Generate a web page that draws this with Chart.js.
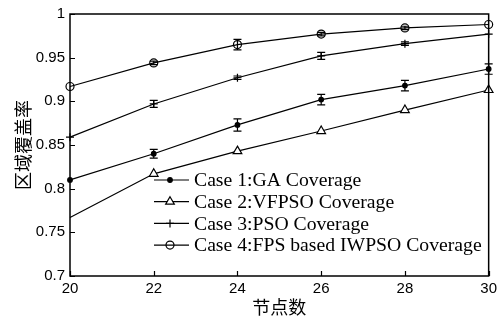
<!DOCTYPE html>
<html><head><meta charset="utf-8">
<script src="https://cdn.jsdelivr.net/npm/chart.js@4/dist/chart.umd.min.js"></script>
<style>html,body{margin:0;padding:0;background:#fff}#wrap{width:501px;height:321px}</style>
</head><body><div id="wrap"><canvas id="c" width="501" height="321"></canvas></div>
<script>
const nodes = [20, 22, 24, 26, 28, 30];
const gaCoverage    = [0.810, 0.840, 0.873, 0.902, 0.918, 0.937];
const gaErr         = [0.000, 0.005, 0.007, 0.006, 0.006, 0.006];
const vfpsoCoverage = [0.767, 0.817, 0.843, 0.866, 0.890, 0.913];
const psoCoverage   = [0.859, 0.897, 0.927, 0.952, 0.966, 0.977];
const psoErr        = [0.000, 0.004, 0.002, 0.004, 0.002, 0.000];
const fpsCoverage   = [0.917, 0.944, 0.965, 0.977, 0.984, 0.988];
const fpsErr        = [0.000, 0.002, 0.006, 0.002, 0.002, 0.000];
const yTicks = [0.7, 0.75, 0.8, 0.85, 0.9, 0.95, 1];
const xTicks = [20, 22, 24, 26, 28, 30];
const labels = ['Case 1:GA Coverage', 'Case 2:VFPSO Coverage', 'Case 3:PSO Coverage', 'Case 4:FPS based IWPSO Coverage'];

const pts = a => a.map((v, i) => ({x: nodes[i], y: v}));
const base = {borderColor:'#000', backgroundColor:'#000', borderWidth:1.2, pointBorderColor:'#000', pointBorderWidth:1.2, tension:0, clip:false};

const datasets = [
  Object.assign({}, base, {label: labels[0], data: pts(gaCoverage), err: gaErr, pointStyle:'circle', pointRadius:2.3, pointBackgroundColor:'#000'}),
  Object.assign({}, base, {label: labels[1], data: pts(vfpsoCoverage), pointStyle:'triangle', pointRadius:[0,5,5,5,5,5], pointBackgroundColor:'#fff'}),
  Object.assign({}, base, {label: labels[2], data: pts(psoCoverage), err: psoErr, pointStyle:'cross', pointRadius:4, pointBackgroundColor:'#fff'}),
  Object.assign({}, base, {label: labels[3], data: pts(fpsCoverage), err: fpsErr, pointStyle:'circle', pointRadius:4, pointBackgroundColor:'rgba(255,255,255,0)'})
];

const decor = {
  id: 'decor',
  afterDatasetsDraw(chart) {
    const ctx = chart.ctx, xs = chart.scales.x, ys = chart.scales.y;
    ctx.save();
    ctx.strokeStyle = '#000'; ctx.lineWidth = 1.2;
    chart.data.datasets.forEach(ds => {
      if (!ds.err) return;
      ds.data.forEach((p, i) => {
        const e = ds.err[i]; if (!e) return;
        const x = xs.getPixelForValue(p.x), y1 = ys.getPixelForValue(p.y + e), y2 = ys.getPixelForValue(p.y - e);
        ctx.beginPath();
        ctx.moveTo(x, y1); ctx.lineTo(x, y2);
        ctx.moveTo(x - 4, y1); ctx.lineTo(x + 4, y1);
        ctx.moveTo(x - 4, y2); ctx.lineTo(x + 4, y2);
        ctx.stroke();
      });
    });
    ctx.restore();
  },
  afterDraw(chart) {
    const ctx = chart.ctx, a = chart.chartArea, xs = chart.scales.x, ys = chart.scales.y;
    ctx.save();
    ctx.strokeStyle = '#000'; ctx.lineWidth = 1.5;
    ctx.strokeRect(a.left, a.top, a.right - a.left, a.bottom - a.top);
    ctx.lineWidth = 1.2;
    ctx.beginPath();
    yTicks.forEach(v => { const y = Math.round(ys.getPixelForValue(v)) + 0.5; ctx.moveTo(a.left, y); ctx.lineTo(a.left + 5, y); });
    xTicks.forEach(v => { const x = Math.round(xs.getPixelForValue(v)) + 0.5; ctx.moveTo(x, a.bottom); ctx.lineTo(x, a.bottom - 5); });
    ctx.stroke();
    // legend
    const lx0 = 154, lx1 = 189, mx = 170, tx = 194;
    let y = 180;
    ctx.font = '19.7px "Liberation Serif", "Times New Roman", serif';
    ctx.textBaseline = 'middle';
    chart.data.datasets.forEach((ds, i) => {
      ctx.lineWidth = 1.2; ctx.strokeStyle = '#000';
      ctx.beginPath(); ctx.moveTo(lx0, y); ctx.lineTo(lx1, y); ctx.stroke();
      const r = Array.isArray(ds.pointRadius) ? ds.pointRadius[1] : ds.pointRadius;
      ctx.fillStyle = ds.pointBackgroundColor; ctx.strokeStyle = '#000';
      Chart.helpers.drawPoint(ctx, {pointStyle: ds.pointStyle, radius: r, borderWidth: 1.2, rotation: 0}, mx, y);
      ctx.fillStyle = '#000';
      ctx.fillText(ds.label, tx, y + 1);
      y += 21.7;
    });
    ctx.restore();
  }
};

new Chart(document.getElementById('c'), {
  type: 'line',
  data: {datasets},
  options: {
    responsive: false, animation: false,
    layout: {padding: {left: 0, right: 11, top: 14, bottom: 0}},
    plugins: {legend: {display: false}, tooltip: {enabled: false}},
    scales: {
      x: {
        type: 'linear', min: 20, max: 30,
        afterBuildTicks: s => { s.ticks = xTicks.map(v => ({value: v})); },
        afterFit: s => { s.height = 45; },
        grid: {display: false, drawTicks: false},
        border: {display: false},
        ticks: {color: '#000', font: {family: '"Liberation Sans", Arial, sans-serif', size: 15}, padding: 4, maxRotation: 0},
        title: {display: true, text: '节点数', color: '#000', font: {family: '"Noto Sans CJK SC", sans-serif', size: 18}, padding: {top: 0, bottom: 3}}
      },
      y: {
        type: 'linear', min: 0.7, max: 1,
        afterBuildTicks: s => { s.ticks = yTicks.map(v => ({value: v})); },
        afterFit: s => { s.width = 70; },
        grid: {display: false, drawTicks: false},
        border: {display: false},
        ticks: {color: '#000', font: {family: '"Liberation Sans", Arial, sans-serif', size: 15}, padding: 5, callback: v => String(v)},
        title: {display: true, text: '区域覆盖率', color: '#000', font: {family: '"Noto Sans CJK SC", sans-serif', size: 18}, padding: {top: 12, bottom: 4}}
      }
    }
  },
  plugins: [decor]
});
</script></body></html>
